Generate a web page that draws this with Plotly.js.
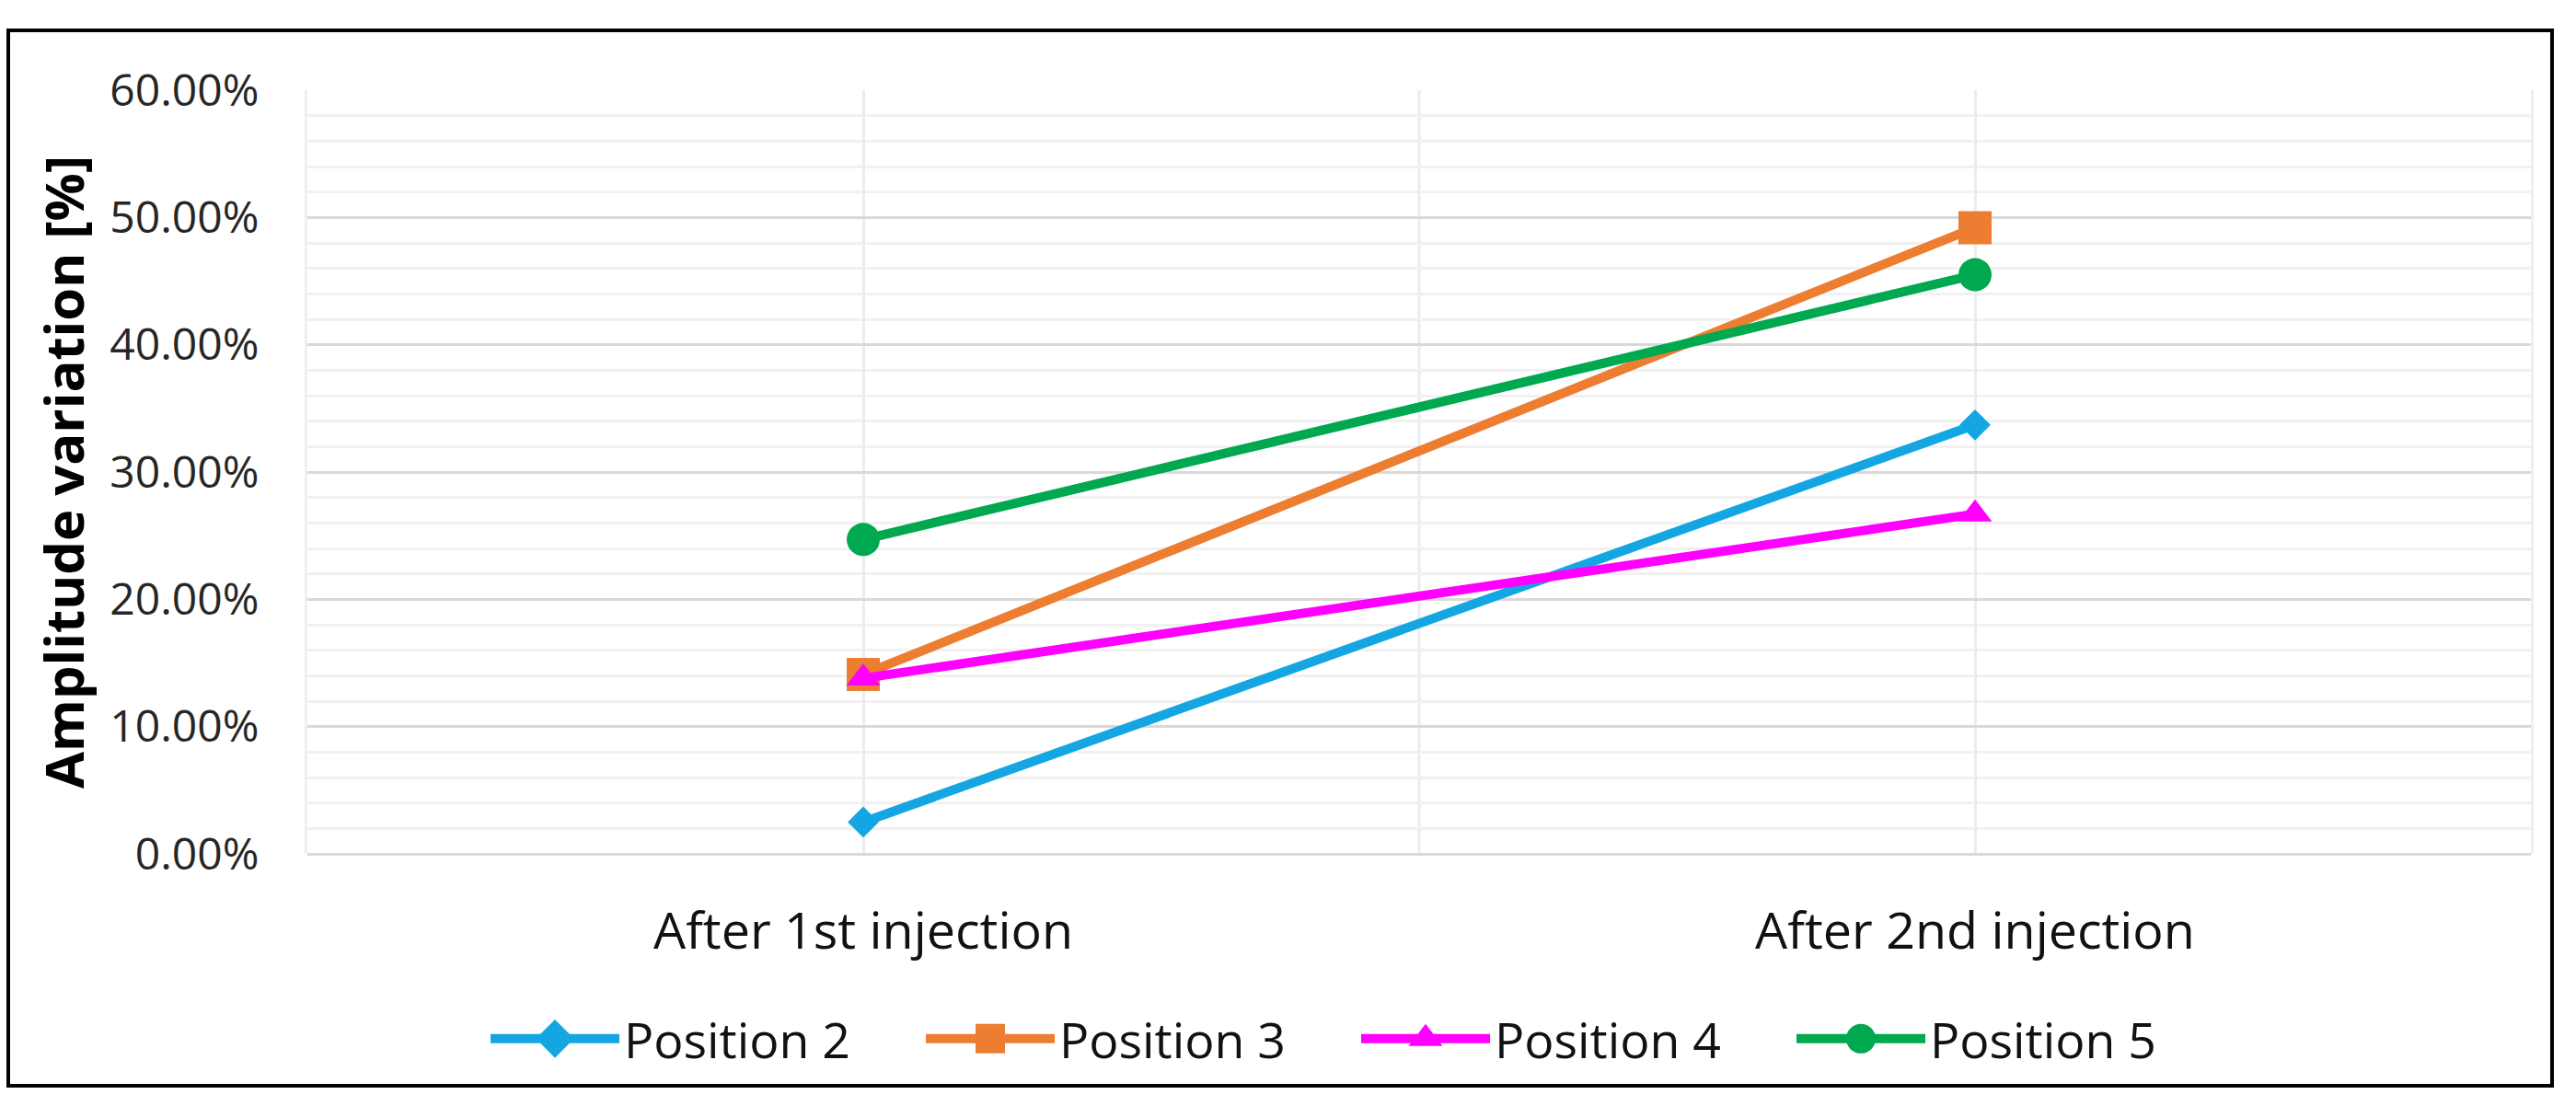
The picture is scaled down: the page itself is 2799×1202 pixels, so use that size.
<!DOCTYPE html>
<html>
<head>
<meta charset="utf-8">
<script src="https://cdn.plot.ly/plotly-3.0.1.min.js"></script>
<style>
html,body{margin:0;padding:0;background:#ffffff;}
#chart{width:2799px;height:1202px;}
</style>
</head>
<body>
<div id="chart"></div>
<script>
// ---- data ----
const categories = ['After 1st injection', 'After 2nd injection'];
const seriesNames = ['Position 2', 'Position 3', 'Position 4', 'Position 5'];
const position2 = [0.025, 0.337];
const position3 = [0.141, 0.492];
const position4 = [0.138, 0.267];
const position5 = [0.247, 0.455];
const yAxisTitle = 'Amplitude variation [%]';

// ---- styling ----
const colors = ['#13a6e3', '#ed7d31', '#ff00ff', '#00a84f'];
const symbols = ['diamond', 'square', 'triangle-up', 'circle'];
const markerSizes = [26, 36, 32, 36];
const seriesValues = [position2, position3, position4, position5];
const FONT = "'Open Sans', sans-serif";

const traces = seriesValues.map((vals, i) => ({
  type: 'scatter',
  mode: 'lines+markers',
  name: seriesNames[i],
  x: categories,
  y: vals,
  line: {color: colors[i], width: 10},
  marker: {color: colors[i], symbol: symbols[i], size: markerSizes[i], line: {width: 0}},
  cliponaxis: false
}));

const W = 2799, H = 1202;
const m = {l: 334, r: 49, t: 98, b: 274};
const pw = W - m.l - m.r, ph = H - m.t - m.b;
const px = v => (v - m.l) / pw;          // page px -> paper x
const py = v => (H - m.b - v) / ph;      // page px -> paper y

const layout = {
  width: W, height: H,
  margin: m,
  paper_bgcolor: '#ffffff',
  plot_bgcolor: '#ffffff',
  showlegend: true,
  hovermode: false,
  font: {family: FONT, color: '#1a1a1a'},
  xaxis: {
    type: 'category',
    range: [-0.5, 1.5],
    showgrid: true,
    gridcolor: '#ececec',
    gridwidth: 3,
    zeroline: false,
    showline: false,
    ticks: '',
    ticklabelstandoff: 46,
    tickfont: {family: FONT, size: 55.6, color: '#111111'}
  },
  yaxis: {
    range: [0, 0.6],
    dtick: 0.1,
    tick0: 0,
    tickformat: '.2%',
    showgrid: true,
    gridcolor: '#d9d9d9',
    gridwidth: 3,
    minor: {dtick: 0.02, showgrid: true, gridcolor: '#f1f1f1', gridwidth: 3},
    zeroline: true,
    zerolinecolor: '#d9d9d9',
    zerolinewidth: 3,
    showline: true,
    mirror: true,
    linecolor: '#efefef',
    linewidth: 3,
    ticks: '',
    ticklabelstandoff: 40,
    tickfont: {family: FONT, size: 48, color: '#262626'},
    title: {text: yAxisTitle, standoff: 10, font: {family: FONT, size: 58, color: '#000000', weight: 'bold'}}
  },
  legend: {
    orientation: 'h',
    x: px(1474), xanchor: 'center',
    y: py(1129), yanchor: 'middle',
    font: {family: FONT, size: 53.6, color: '#111111'},
    itemwidth: 140,
    entrywidth: 318,
    entrywidthmode: 'pixels',
    bgcolor: 'rgba(0,0,0,0)'
  },
  shapes: [
    {type: 'line', xref: 'x', yref: 'paper', x0: 0.5, x1: 0.5, y0: 0, y1: 1,
     line: {color: '#ececec', width: 3}, layer: 'below'},
    {type: 'rect', xref: 'paper', yref: 'paper',
     x0: px(9), x1: px(2773), y0: py(1180), y1: py(33),
     line: {color: '#000000', width: 4}, fillcolor: 'rgba(0,0,0,0)', layer: 'above'}
  ]
};

Plotly.newPlot('chart', traces, layout, {displayModeBar: false, staticPlot: true}).then(gd => {
  // legend symbols in the reference are as thick as the plotted lines/markers
  gd.querySelectorAll('.legend path.js-line').forEach(p => { p.style.strokeWidth = '10px'; });
  gd.querySelectorAll('.legend .legendpoints path.scatterpts').forEach(p => {
    const t = p.getAttribute('transform') || '';
    p.setAttribute('transform', t + ' scale(2)');
  });
});
</script>
</body>
</html>
